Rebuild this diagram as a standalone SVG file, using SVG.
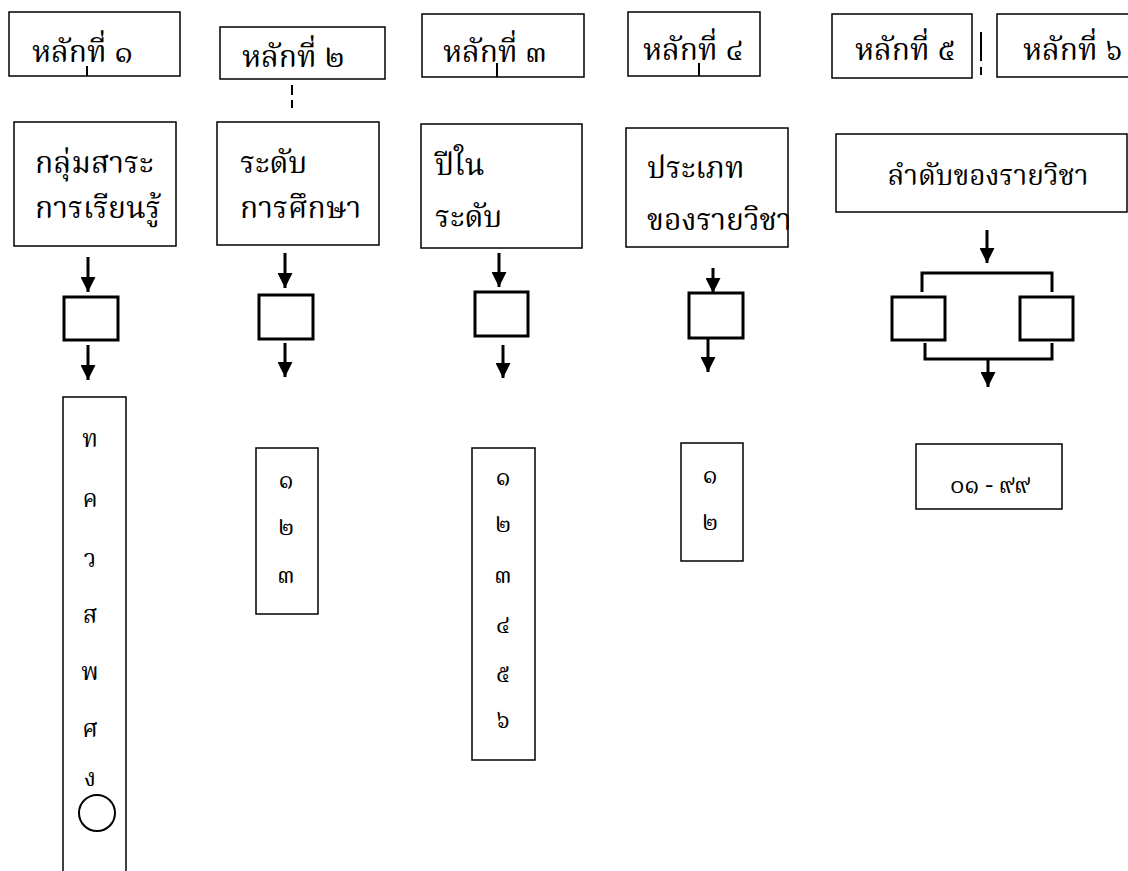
<svg xmlns="http://www.w3.org/2000/svg" width="1128" height="871" viewBox="0 0 1128 871">
<defs>
<marker id="ah" viewBox="0 0 10 10" refX="10" refY="5" markerWidth="5" markerHeight="5" markerUnits="strokeWidth" orient="auto">
<path d="M0,0 L10,5 L0,10 z" fill="#000"/>
</marker>
</defs>
<style>
.box{fill:#fff;stroke:#000;stroke-width:1.5}
.sb{fill:#fff;stroke:#000;stroke-width:3}
.ln{stroke:#000;stroke-width:3;fill:none}
.tk{stroke:#000;stroke-width:2;fill:none}
.t{font-family:"Norasi","Kinnari","Noto Serif Thai","Liberation Serif","Noto Sans Thai",serif;font-size:30px;fill:#000}
.d{font-family:"Norasi","Kinnari","Noto Serif Thai","Liberation Serif","Noto Sans Thai",serif;font-size:24px;fill:#000;text-anchor:middle}
</style>
<rect width="1128" height="871" fill="#fff"/>
<g id="h1"><rect class="box" x="9" y="12" width="171" height="64"/><text class="t" x="32" y="62">หลักที่ ๑</text></g>
<g id="h2"><rect class="box" x="220" y="27" width="165" height="52"/><text class="t" x="242" y="67">หลักที่ ๒</text></g>
<g id="h3"><rect class="box" x="422" y="14" width="162" height="63"/><text class="t" x="443" y="62">หลักที่ ๓</text></g>
<g id="h4"><rect class="box" x="628" y="12" width="132" height="64"/><text class="t" x="643" y="60">หลักที่ ๔</text></g>
<g id="h5"><rect class="box" x="832" y="14" width="140" height="64"/><text class="t" x="855" y="60">หลักที่ ๕</text></g>
<g id="h6"><rect class="box" x="997" y="14" width="140" height="63"/><text class="t" x="1023" y="60">หลักที่ ๖</text></g>

<g id="c1"><rect class="box" x="14" y="122" width="162" height="124"/><text class="t" x="35" y="173">กลุ่มสาระ</text><text class="t" x="35" y="218">การเรียนรู้</text></g>
<g id="c2"><rect class="box" x="217" y="122" width="162" height="123"/><text class="t" x="240" y="173">ระดับ</text><text class="t" x="240" y="218">การศึกษา</text></g>
<g id="c3"><rect class="box" x="421" y="124" width="161" height="124"/><text class="t" x="435" y="175">ปีใน</text><text class="t" x="435" y="227">ระดับ</text></g>
<g id="c4"><rect class="box" x="626" y="128" width="162" height="119"/><text class="t" x="647" y="178">ประเภท</text><text class="t" x="647" y="230">ของรายวิชา</text></g>
<g id="c5"><rect class="box" x="836" y="134" width="291" height="78"/><text class="t" x="988" y="185" text-anchor="middle" style="font-size:28px">ลำดับของรายวิชา</text></g>

<g id="s1"><rect class="sb" x="64" y="297" width="54" height="43"/></g>
<g id="s2"><rect class="sb" x="259" y="295" width="54" height="44"/></g>
<g id="s3"><rect class="sb" x="475" y="292" width="53" height="44"/></g>
<g id="s4"><rect class="sb" x="689" y="293" width="54" height="45"/></g>
<g id="s5a"><rect class="sb" x="892" y="297" width="53" height="43"/></g>
<g id="s5b"><rect class="sb" x="1020" y="297" width="53" height="43"/></g>

<g id="v1"><path class="box" d="M63,871 V397 H126 V871"/>
<text class="d" x="90" y="447">ท</text><text class="d" x="90" y="507">ค</text><text class="d" x="90" y="567">ว</text><text class="d" x="90" y="623">ส</text><text class="d" x="90" y="680">พ</text><text class="d" x="90" y="737">ศ</text><text class="d" x="90" y="786">ง</text>
<circle cx="97" cy="813" r="18" fill="none" stroke="#000" stroke-width="2"/></g>
<g id="v2"><rect class="box" x="256" y="448" width="62" height="166"/>
<text class="d" x="286" y="488">๑</text><text class="d" x="286" y="535">๒</text><text class="d" x="286" y="583">๓</text></g>
<g id="v3"><rect class="box" x="472" y="448" width="63" height="312"/>
<text class="d" x="503" y="485">๑</text><text class="d" x="503" y="532">๒</text><text class="d" x="503" y="583">๓</text><text class="d" x="503" y="633">๔</text><text class="d" x="503" y="682">๕</text><text class="d" x="503" y="728">๖</text></g>
<g id="v4"><rect class="box" x="681" y="443" width="62" height="118"/>
<text class="d" x="710" y="483">๑</text><text class="d" x="710" y="530">๒</text></g>
<g id="v5"><rect class="box" x="916" y="444" width="146" height="65"/>
<text class="d" x="990" y="493">๐๑ - ๙๙</text></g>

<g id="connectors">
<line class="tk" x1="87" y1="66" x2="87" y2="76"/>
<line class="tk" x1="292" y1="85" x2="292" y2="95" stroke-width="2.5"/>
<line class="tk" x1="292" y1="100" x2="292" y2="108" stroke-width="2.5"/>
<line class="tk" x1="497" y1="63" x2="497" y2="77"/>
<line class="tk" x1="699" y1="63" x2="699" y2="76"/>
<line class="tk" x1="981" y1="32" x2="981" y2="61" stroke-width="2.5"/>
<line class="tk" x1="981" y1="67" x2="981" y2="75" stroke-width="2.5"/>

<line class="ln" x1="88" y1="257" x2="88" y2="292" marker-end="url(#ah)"/>
<line class="ln" x1="88" y1="345" x2="88" y2="380" marker-end="url(#ah)"/>
<line class="ln" x1="285" y1="253" x2="285" y2="288" marker-end="url(#ah)"/>
<line class="ln" x1="285" y1="343" x2="285" y2="377" marker-end="url(#ah)"/>
<line class="ln" x1="499" y1="253" x2="499" y2="287" marker-end="url(#ah)"/>
<line class="ln" x1="503" y1="345" x2="503" y2="378" marker-end="url(#ah)"/>
<line class="ln" x1="713" y1="268" x2="713" y2="293" marker-end="url(#ah)"/>
<line class="ln" x1="708" y1="338" x2="708" y2="372" marker-end="url(#ah)"/>
<line class="ln" x1="987" y1="230" x2="987" y2="263" marker-end="url(#ah)"/>
<path class="ln" d="M922,292 V273 H1052 V292"/>
<path class="ln" d="M925,343 V359 H1052 V343"/>
<line class="ln" x1="988" y1="359" x2="988" y2="387" marker-end="url(#ah)"/>
</g>
</svg>
